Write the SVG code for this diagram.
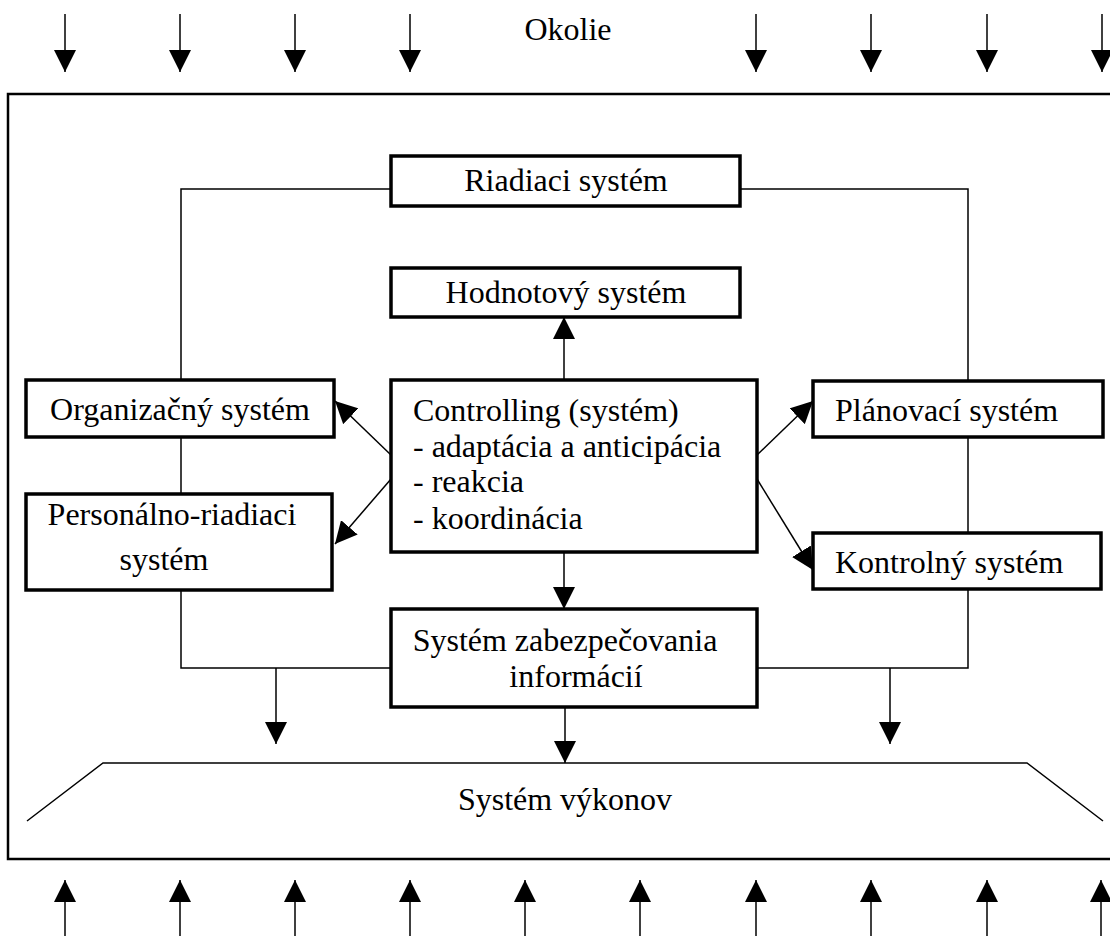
<svg xmlns="http://www.w3.org/2000/svg" width="1110" height="936" viewBox="0 0 1110 936">
<style>
text{font-family:"Liberation Serif","Times New Roman",serif;font-size:32px;fill:#000}
.box{fill:#fff;stroke:#000;stroke-width:3.5}
.ln{fill:none;stroke:#000;stroke-width:1.5}
.ar{fill:none;stroke:#000;stroke-width:1.5;marker-end:url(#ah)}
.c{text-anchor:middle}
</style>
<defs>
<marker id="ah" markerUnits="userSpaceOnUse" markerWidth="23" markerHeight="22" refX="22" refY="11" orient="auto" viewBox="0 0 23 22">
<path d="M0,0 L22,11 L0,22 z" fill="#000"/>
</marker>
</defs>
<rect x="8" y="94" width="1120" height="765" fill="none" stroke="#000" stroke-width="2.5"/>
<text class="c" x="568" y="40">Okolie</text>
<g id="connectors">
<g id="env-top">
<line class="ar" x1="65" y1="14" x2="65" y2="72"/>
<line class="ar" x1="180" y1="14" x2="180" y2="72"/>
<line class="ar" x1="295" y1="14" x2="295" y2="72"/>
<line class="ar" x1="410" y1="14" x2="410" y2="72"/>
<line class="ar" x1="756" y1="14" x2="756" y2="72"/>
<line class="ar" x1="871" y1="14" x2="871" y2="72"/>
<line class="ar" x1="987" y1="14" x2="987" y2="72"/>
<line class="ar" x1="1102" y1="14" x2="1102" y2="72"/>
</g>
<g id="env-bottom">
<line class="ar" x1="65" y1="936" x2="65" y2="880"/>
<line class="ar" x1="180" y1="936" x2="180" y2="880"/>
<line class="ar" x1="295" y1="936" x2="295" y2="880"/>
<line class="ar" x1="410" y1="936" x2="410" y2="880"/>
<line class="ar" x1="525" y1="936" x2="525" y2="880"/>
<line class="ar" x1="640" y1="936" x2="640" y2="880"/>
<line class="ar" x1="756" y1="936" x2="756" y2="880"/>
<line class="ar" x1="871" y1="936" x2="871" y2="880"/>
<line class="ar" x1="987" y1="936" x2="987" y2="880"/>
<line class="ar" x1="1101" y1="936" x2="1101" y2="880"/>
</g>
<polyline class="ln" points="391,189 181,189 181,380"/>
<line class="ln" x1="181" y1="437" x2="181" y2="494"/>
<polyline class="ln" points="181,590 181,668 391,668"/>
<polyline class="ln" points="740,189 968,189 968,381"/>
<line class="ln" x1="968" y1="437" x2="968" y2="533"/>
<polyline class="ln" points="968,589 968,668 757,668"/>
<line class="ar" x1="564" y1="380" x2="564" y2="317"/>
<line class="ar" x1="564" y1="552" x2="564" y2="609"/>
<line class="ar" x1="391" y1="455" x2="335" y2="401"/>
<line class="ar" x1="391" y1="479" x2="335" y2="544"/>
<line class="ar" x1="757" y1="455" x2="813" y2="401"/>
<line class="ar" x1="757" y1="479" x2="813" y2="570"/>
<line class="ar" x1="276" y1="668" x2="276" y2="744"/>
<line class="ar" x1="890" y1="668" x2="890" y2="744"/>
<line class="ar" x1="565" y1="707" x2="565" y2="763"/>
</g>
<g id="riadiaci">
<rect class="box" x="391" y="156" width="349" height="50"/>
<text class="c" x="566" y="191">Riadiaci systém</text>
</g>
<g id="hodnotovy">
<rect class="box" x="391" y="268" width="349" height="49"/>
<text class="c" x="566" y="303">Hodnotový systém</text>
</g>
<g id="controlling">
<rect class="box" x="391" y="380" width="366" height="172"/>
<text x="413" y="421">Controlling (systém)</text>
<text x="413" y="457">- adaptácia a anticipácia</text>
<text x="413" y="492">- reakcia</text>
<text x="413" y="529">- koordinácia</text>
</g>
<g id="organizacny">
<rect class="box" x="26" y="380" width="308" height="57"/>
<text class="c" x="180" y="420">Organizačný systém</text>
</g>
<g id="personalno">
<rect class="box" x="26" y="494" width="306" height="96"/>
<text class="c" x="172" y="525">Personálno-riadiaci</text>
<text class="c" x="164" y="570">systém</text>
</g>
<g id="planovaci">
<rect class="box" x="813" y="381" width="290" height="56"/>
<text x="835" y="421">Plánovací systém</text>
</g>
<g id="kontrolny">
<rect class="box" x="813" y="533" width="288" height="56"/>
<text x="835" y="573">Kontrolný systém</text>
</g>
<g id="zabezpecovania">
<rect class="box" x="391" y="609" width="366" height="98"/>
<text class="c" x="565" y="651">Systém zabezpečovania</text>
<text class="c" x="576" y="687">informácií</text>
</g>
<g id="vykonov">
<polyline class="ln" points="27,821 103,763 1027,763 1103,821" stroke-width="2"/>
<text class="c" x="565" y="810">Systém výkonov</text>
</g>
</svg>
